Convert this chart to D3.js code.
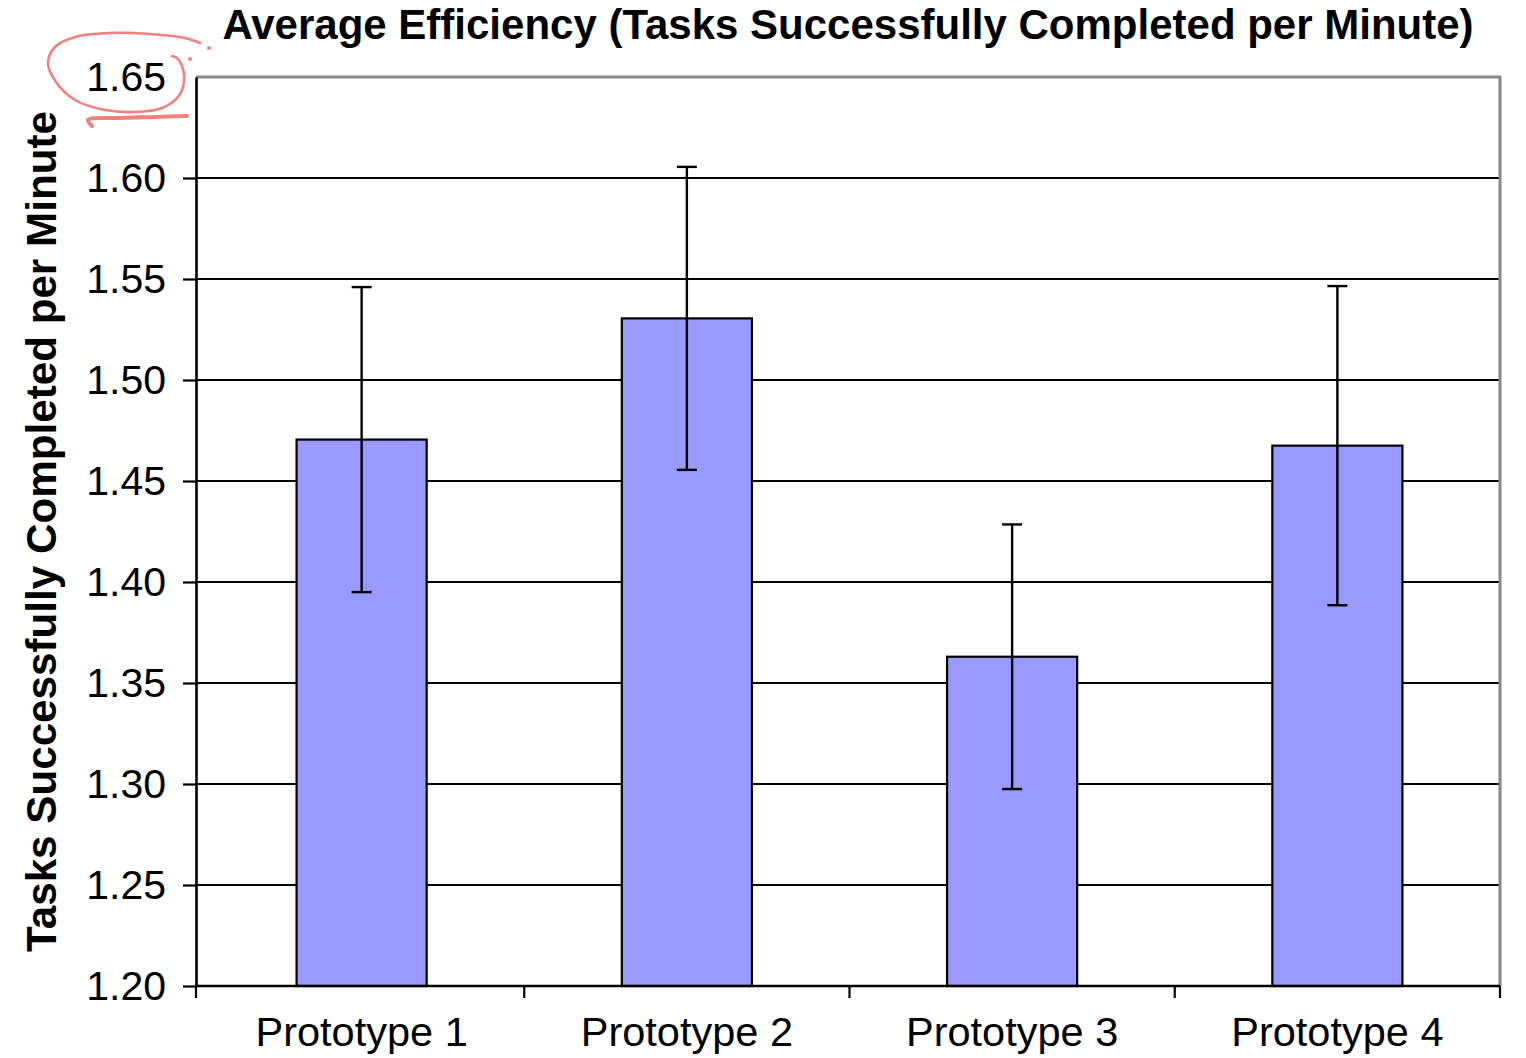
<!DOCTYPE html>
<html>
<head>
<meta charset="utf-8">
<script src="https://cdn.jsdelivr.net/npm/d3@7/dist/d3.min.js"></script>
<style>
  html, body { margin: 0; padding: 0; background: #fff; }
  svg { display: block; }
  text { font-family: "Liberation Sans", Arial, Helvetica, sans-serif; fill: #000; }
</style>
</head>
<body>
<svg id="chart" width="1526" height="1058"></svg>
<script>
// ---- data ----
const categories = ["Prototype 1", "Prototype 2", "Prototype 3", "Prototype 4"];
const means = [1.4705, 1.5305, 1.3630, 1.4675];
const errors = [0.0755, 0.0750, 0.0655, 0.0790];
const yTicks = [1.20, 1.25, 1.30, 1.35, 1.40, 1.45, 1.50, 1.55, 1.60, 1.65];
const titleText = "Average Efficiency (Tasks Successfully Completed per Minute)";
const yTitleText = "Tasks Successfully Completed per Minute";
// hand-drawn highlight annotation around the top tick label
const circleStroke = [[200,43],[185,38],[150,34],[110,33],[75,37],[55,47],[48,63],[56,82],[75,100],[105,110],[135,112],[162,108],[178,97],[184,82],[182,66],[177,58],[172,56]];
const underlineStroke = [[92,126],[88,120],[120,118],[155,117],[187,116]];
const annotationDots = [[190,59],[209,48]];

// ---- layout ----
const svg = d3.select("#chart");
const pLeft = 196, pRight = 1500, pTop = 77, pBottom = 986;

const x = d3.scaleBand().domain(categories).range([pLeft + 3, pRight]).padding(0);
const y = d3.scaleLinear().domain([1.20, 1.65]).range([pBottom, pTop]);
const barW = x.bandwidth() * 0.4;

// gridlines
svg.append("g").selectAll("line")
  .data(yTicks.filter(d => d > 1.2 && d < 1.65))
  .join("line")
  .attr("x1", pLeft).attr("x2", pRight)
  .attr("y1", d => y(d)).attr("y2", d => y(d))
  .attr("stroke", "#000").attr("stroke-width", 2.2);

// plot border top/right (grey)
svg.append("path")
  .attr("d", `M${pLeft},${y(1.65)}H${pRight}V${y(1.2)}`)
  .attr("fill", "none").attr("stroke", "#888").attr("stroke-width", 3);

// bars
svg.append("g").selectAll("rect")
  .data(categories)
  .join("rect")
  .attr("x", d => x(d) + (x.bandwidth() - barW) / 2)
  .attr("width", barW)
  .attr("y", (d, i) => y(means[i]))
  .attr("height", (d, i) => y(1.2) - y(means[i]))
  .attr("fill", "#9999FF")
  .attr("stroke", "#000").attr("stroke-width", 2.2);

// error bars
const eg = svg.append("g").attr("stroke", "#000").attr("stroke-width", 2.4);
categories.forEach((c, i) => {
  const cx = x(c) + x.bandwidth() / 2;
  const yt = y(means[i] + errors[i]), yb = y(means[i] - errors[i]);
  eg.append("line").attr("x1", cx).attr("x2", cx).attr("y1", yt).attr("y2", yb);
  eg.append("line").attr("x1", cx - 10).attr("x2", cx + 10).attr("y1", yt).attr("y2", yt);
  eg.append("line").attr("x1", cx - 10).attr("x2", cx + 10).attr("y1", yb).attr("y2", yb);
});

// y axis
const yAxis = svg.append("g").attr("transform", `translate(${pLeft},0)`)
  .call(d3.axisLeft(y).tickValues(yTicks).tickSize(13).tickSizeOuter(0).tickPadding(17).tickFormat(d3.format(".2f")));
yAxis.select(".domain").attr("stroke", "#000").attr("stroke-width", 2.6);
yAxis.selectAll(".tick line").attr("stroke", "#000").attr("stroke-width", 2.2);
yAxis.selectAll(".tick text").attr("font-size", 41).attr("font-family", "Liberation Sans, Arial, sans-serif").attr("fill", "#000");
yAxis.selectAll(".tick").filter(d => d === 1.65).select("line").remove();

// x axis baseline and ticks at band boundaries
const xg = svg.append("g");
xg.append("line").attr("x1", pLeft).attr("x2", pRight).attr("y1", pBottom).attr("y2", pBottom)
  .attr("stroke", "#000").attr("stroke-width", 2.6);
const boundaries = [pLeft].concat(categories.slice(1).map(c => x(c))).concat([pRight]);
xg.selectAll("line.tk").data(boundaries).join("line").attr("class", "tk")
  .attr("x1", d => d).attr("x2", d => d).attr("y1", pBottom).attr("y2", pBottom + 12)
  .attr("stroke", "#000").attr("stroke-width", 2.2);
xg.selectAll("text").data(categories).join("text")
  .attr("x", d => x(d) + x.bandwidth() / 2)
  .attr("y", 1046)
  .attr("text-anchor", "middle")
  .attr("font-size", 41.5)
  .text(d => d);

// title
svg.append("text")
  .attr("x", (pLeft + pRight) / 2).attr("y", 39)
  .attr("text-anchor", "middle")
  .attr("font-size", 42).attr("font-weight", "bold")
  .text(titleText);

// y title
svg.append("text")
  .attr("transform", `translate(56,${(pTop + pBottom) / 2}) rotate(-90)`)
  .attr("text-anchor", "middle")
  .attr("font-size", 42.2).attr("font-weight", "bold")
  .text(yTitleText);

// annotation
const red = "#F47F7F";
const lineGen = d3.line().curve(d3.curveCatmullRom);
svg.append("path").attr("d", lineGen(circleStroke))
  .attr("fill", "none").attr("stroke", red).attr("stroke-width", 2.6).attr("stroke-linecap", "round");
svg.append("path").attr("d", lineGen(underlineStroke))
  .attr("fill", "none").attr("stroke", red).attr("stroke-width", 4).attr("stroke-linecap", "round");
svg.selectAll("circle.dot").data(annotationDots).join("circle").attr("class", "dot")
  .attr("cx", d => d[0]).attr("cy", d => d[1]).attr("r", 2).attr("fill", red);
</script>
</body>
</html>
